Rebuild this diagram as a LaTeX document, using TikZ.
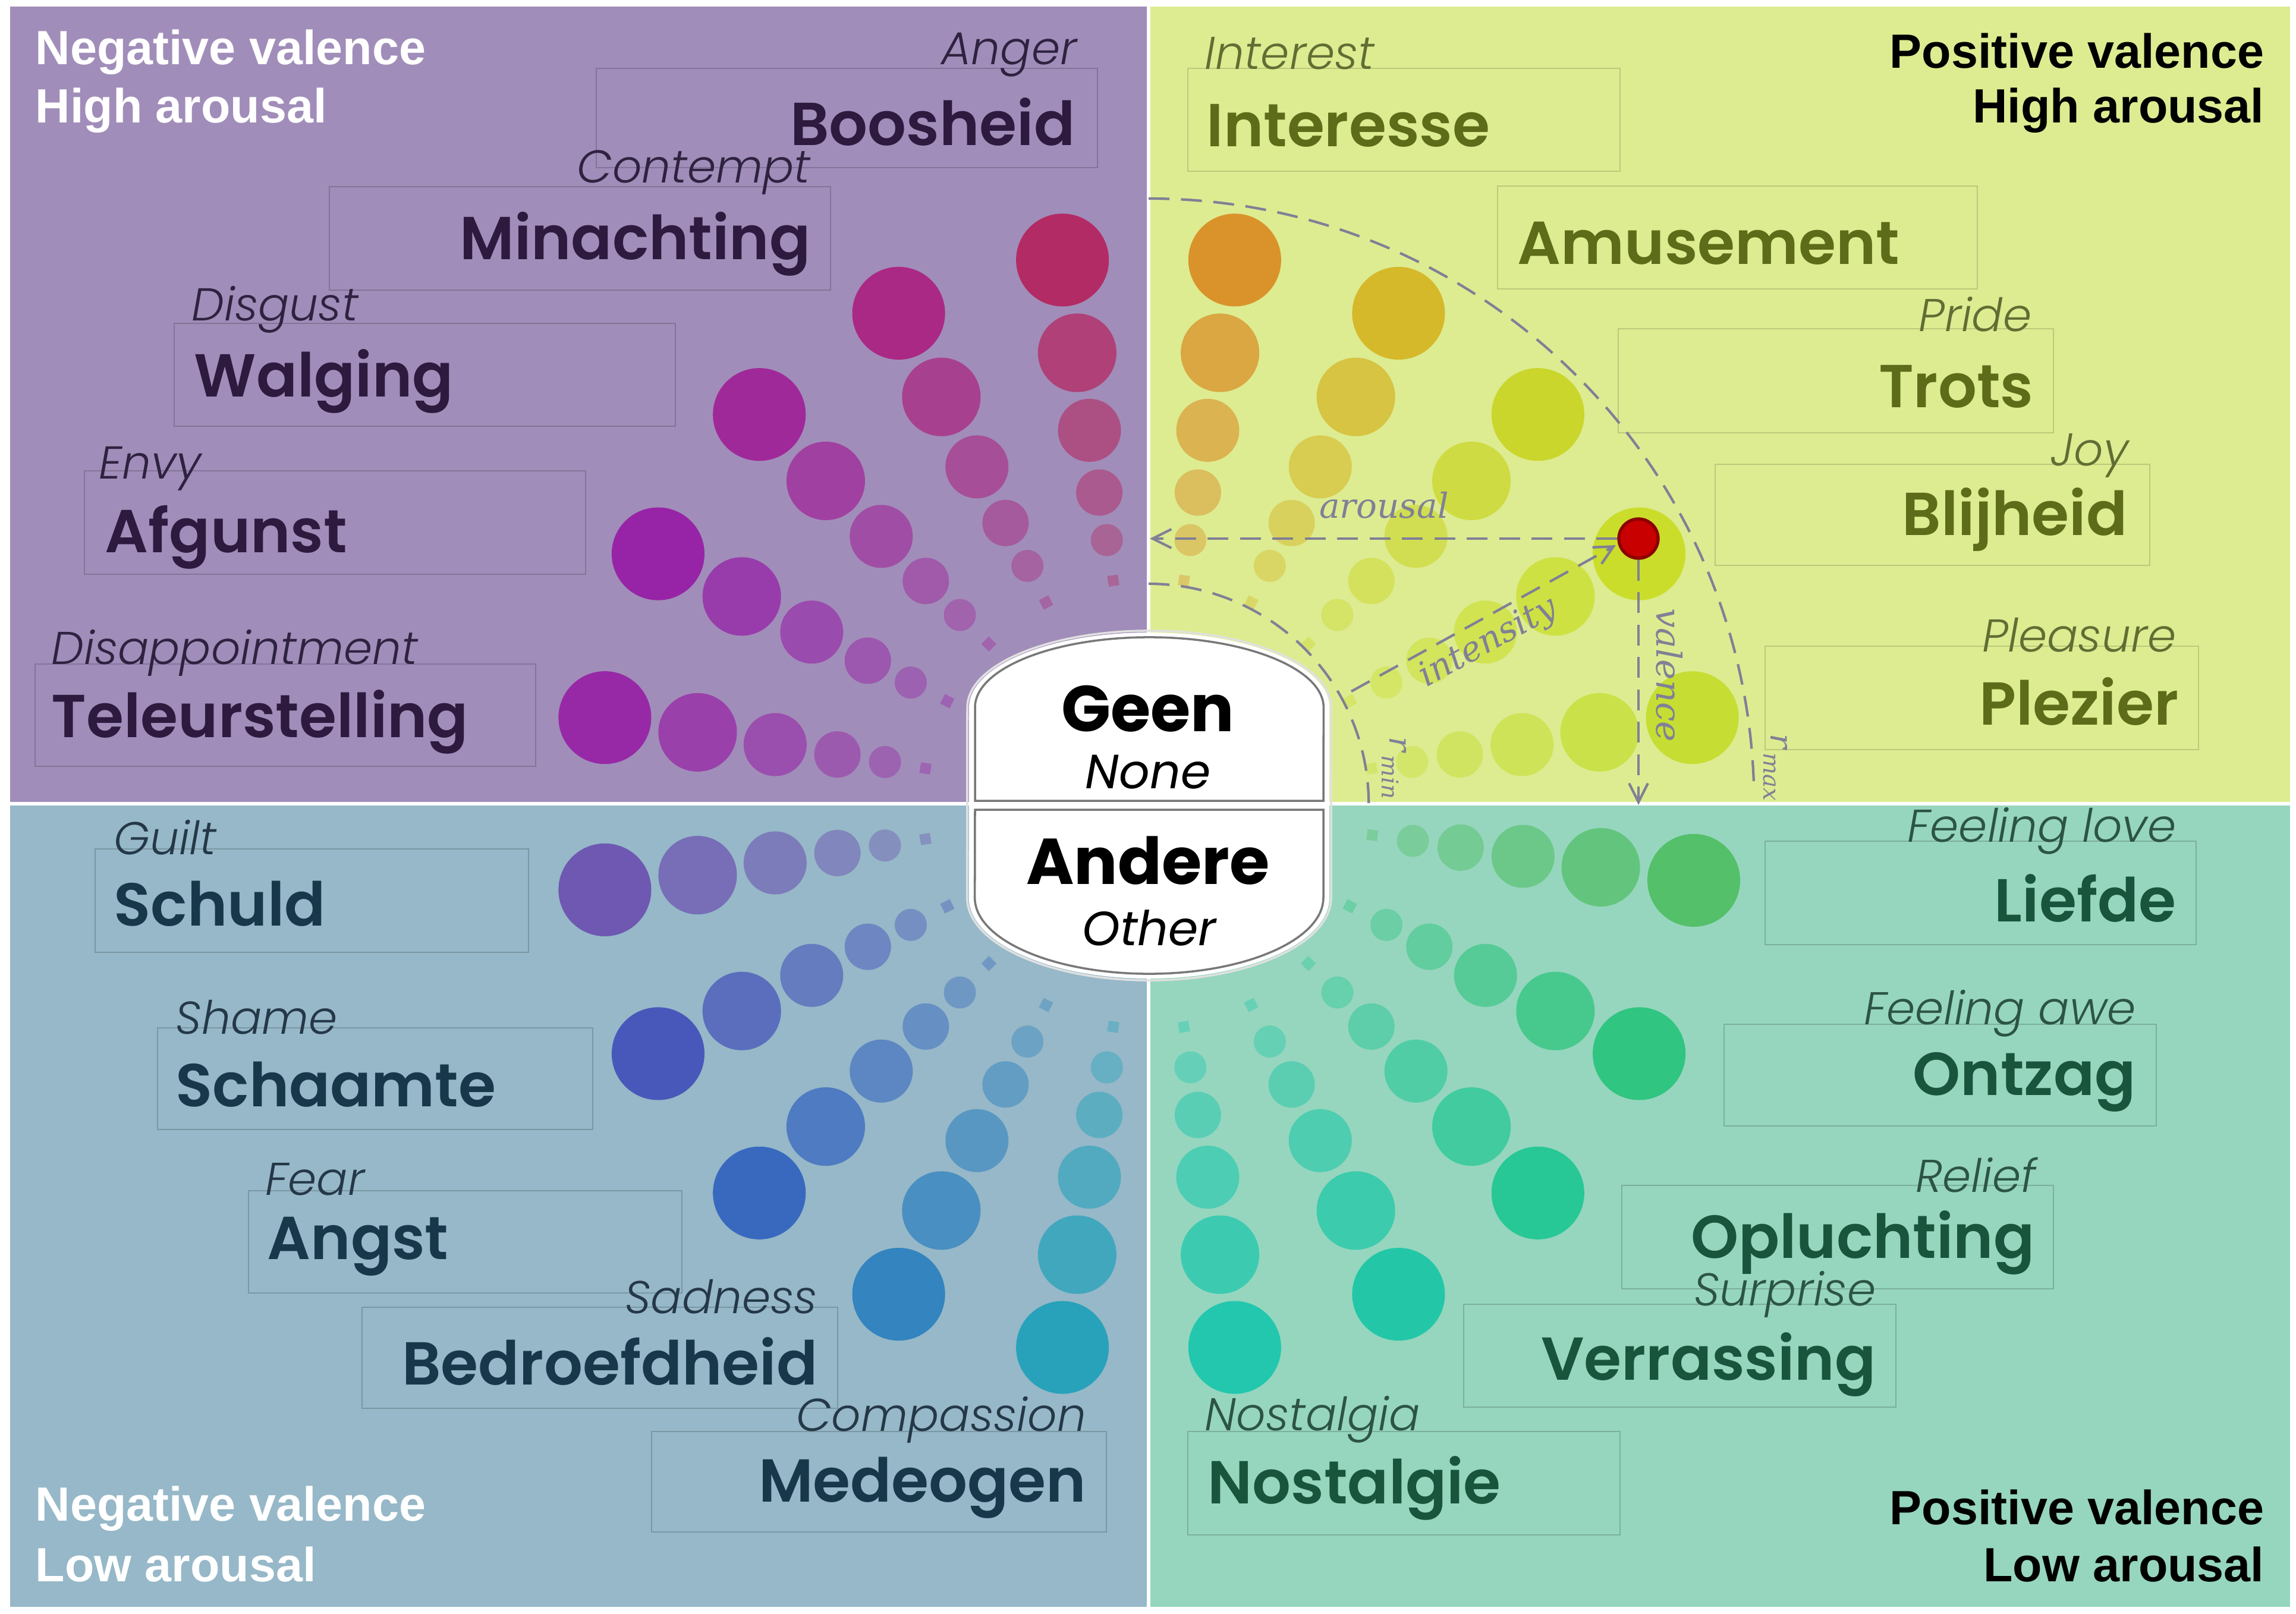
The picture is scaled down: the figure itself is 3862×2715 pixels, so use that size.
\documentclass[tikz,border=0pt]{standalone}
\usepackage{fontspec}
\usetikzlibrary{arrows.meta}
\newfontfamily\emofont{Poppins}[BoldFont={Poppins SemiBold}, ItalicFont={Poppins Light Italic}]
\newfontfamily\ctrfont{Poppins}
\newfontfamily\titlefont{Liberation Sans}
\newfontfamily\annfont{DejaVu Serif}
\newcommand\myfs[1]{\fontsize{#1}{#1}\selectfont}
% backgrounds
\definecolor{tlbg}{RGB}{161,141,185}
\definecolor{trbg}{RGB}{221,236,145}
\definecolor{blbg}{RGB}{150,184,200}
\definecolor{brbg}{RGB}{150,214,190}
% text colours
\definecolor{tlw}{RGB}{46,26,62}
\definecolor{tle}{RGB}{46,34,64}
\definecolor{trw}{RGB}{92,108,24}
\definecolor{tre}{RGB}{96,110,52}
\definecolor{blw}{RGB}{25,55,75}
\definecolor{ble}{RGB}{36,56,72}
\definecolor{brw}{RGB}{25,85,60}
\definecolor{bre}{RGB}{44,84,68}
\definecolor{annotgray}{RGB}{128,128,150}
\definecolor{shapegray}{RGB}{120,120,120}
\definecolor{reddot}{RGB}{200,0,0}
\definecolor{reddotb}{RGB}{140,0,0}
% spoke colours
\definecolor{cAng}{RGB}{182,30,90}
\definecolor{cCon}{RGB}{172,28,125}
\definecolor{cDis}{RGB}{160,28,150}
\definecolor{cEnv}{RGB}{150,22,165}
\definecolor{cDisa}{RGB}{150,28,165}
\definecolor{cInt}{RGB}{218,135,30}
\definecolor{cAmu}{RGB}{212,178,30}
\definecolor{cPri}{RGB}{200,212,30}
\definecolor{cJoy}{RGB}{200,220,30}
\definecolor{cPle}{RGB}{195,220,40}
\definecolor{cGui}{RGB}{105,75,175}
\definecolor{cSha}{RGB}{62,75,185}
\definecolor{cFea}{RGB}{45,95,190}
\definecolor{cSad}{RGB}{38,125,190}
\definecolor{cCom}{RGB}{25,160,185}
\definecolor{cLov}{RGB}{75,190,95}
\definecolor{cAwe}{RGB}{35,195,120}
\definecolor{cRel}{RGB}{25,198,145}
\definecolor{cSur}{RGB}{20,198,165}
\definecolor{cNos}{RGB}{18,198,172}
\tikzset{
  word/.style={font=\emofont\bfseries\myfs{29pt}, inner sep=0pt},
  eng/.style={font=\emofont\itshape\myfs{22pt}, inner sep=0pt},
  ttl/.style={font=\titlefont\bfseries\myfs{23pt}, inner sep=0pt},
  lbox/.style={line width=0.8pt},
  annot/.style={draw=annotgray, line width=1.2pt, dash pattern=on 10pt off 5.5pt},
  annottip/.style={-{Straight Barb[length=9pt,width=9pt,line width=1.2pt]}},
  annotlab/.style={text=annotgray, font=\annfont\itshape\myfs{16.5pt}, inner sep=0pt},
}
\begin{document}
\begin{tikzpicture}[x=0.01cm,y=-0.01cm]
\useasboundingbox (0,0) rectangle (3862,2715);
\fill[white] (0,0) rectangle (3862,2715);
% quadrants
\fill[tlbg] (17,11) rectangle (1929,1349);
\fill[trbg] (1935,11) rectangle (3852,1349);
\fill[blbg] (17,1355) rectangle (1929,2703);
\fill[brbg] (1935,1355) rectangle (3852,2703);

% label boxes
\draw[lbox, draw=tlbg!82!black] (1003,115) rectangle (1846,282);
\draw[lbox, draw=tlbg!82!black] (554,314) rectangle (1397,488);
\draw[lbox, draw=tlbg!82!black] (293,544) rectangle (1136,717);
\draw[lbox, draw=tlbg!82!black] (142,792) rectangle (985,966);
\draw[lbox, draw=tlbg!82!black] (59,1117) rectangle (901,1289);
\draw[lbox, draw=trbg!85!black] (1998,115) rectangle (2725,288);
\draw[lbox, draw=trbg!85!black] (2519,313) rectangle (3326,486);
\draw[lbox, draw=trbg!85!black] (2722,553) rectangle (3454,728);
\draw[lbox, draw=trbg!85!black] (2885,781) rectangle (3616,951);
\draw[lbox, draw=trbg!85!black] (2969,1087) rectangle (3698,1261);
\draw[lbox, draw=blbg!82!black] (160,1428) rectangle (889,1602);
\draw[lbox, draw=blbg!82!black] (265,1729) rectangle (997,1900);
\draw[lbox, draw=blbg!82!black] (418,2003) rectangle (1147,2175);
\draw[lbox, draw=blbg!82!black] (609,2199) rectangle (1409,2369);
\draw[lbox, draw=blbg!82!black] (1096,2408) rectangle (1861,2577);
\draw[lbox, draw=brbg!82!black] (2969,1415) rectangle (3694,1589);
\draw[lbox, draw=brbg!82!black] (2900,1723) rectangle (3627,1894);
\draw[lbox, draw=brbg!82!black] (2728,1994) rectangle (3454,2168);
\draw[lbox, draw=brbg!82!black] (2462,2194) rectangle (3189,2367);
\draw[lbox, draw=brbg!82!black] (1998,2408) rectangle (2725,2582);

% spokes of circles
\foreach \ang/\col in {81/cInt,63/cAmu,45/cPri,27/cJoy,9/cPle,
  99/cAng,117/cCon,135/cDis,153/cEnv,171/cDisa,
  189/cGui,207/cSha,225/cFea,243/cSad,261/cCom,
  279/cNos,297/cSur,315/cRel,333/cAwe,352/cLov}{
  \foreach \d/\r/\op in {926/0.78/0.88,768/0.66/0.68,636/0.53/0.55,530/0.39/0.45,449/0.27/0.37}{
    \fill[\col, opacity=\op] ({1932+\d*cos(\ang)},{1352-\d*sin(\ang)}) circle[radius=\r cm];
  }
  \fill[\col, opacity=0.35, shift={({1932+380*cos(\ang)},{1352-380*sin(\ang)})}, rotate=\ang] (-9,-9) rectangle (9,9);
}

% titles
\node[ttl, text=white, anchor=west] (t1a) at (59,88) {Negative valence};
\node[ttl, text=white, anchor=west] (t1b) at (59,186) {High arousal};
\node[ttl, text=black, anchor=east] (t2a) at (3809,86) {Positive valence};
\node[ttl, text=black, anchor=east] (t2b) at (3809,186) {High arousal};
\node[ttl, text=white, anchor=west] (t3a) at (59,2538) {Negative valence};
\node[ttl, text=white, anchor=west] (t3b) at (59,2632) {Low arousal};
\node[ttl, text=black, anchor=east] (t4a) at (3809,2536) {Positive valence};
\node[ttl, text=black, anchor=east] (t4b) at (3809,2632) {Low arousal};

% TL labels
\node[eng, text=tle, anchor=east] (e1) at (1812,92) {Anger};
\node[word, text=tlw, anchor=east] (w1) at (1809,205) {Boosheid};
\node[eng, text=tle, anchor=east] (e2) at (1364,290) {Contempt};
\node[word, text=tlw, anchor=east] (w2) at (1364,410) {Minachting};
\node[eng, text=tle, anchor=west] (e3) at (322,521) {Disgust};
\node[word, text=tlw, anchor=west] (w3) at (326,641) {Walging};
\node[eng, text=tle, anchor=west] (e4) at (166,788) {Envy};
\node[word, text=tlw, anchor=west] (w4) at (176,904) {Afgunst};
\node[eng, text=tle, anchor=west] (e5) at (86,1098) {Disappointment};
\node[word, text=tlw, anchor=west] (w5) at (86,1214) {Teleurstelling};
% TR labels
\node[eng, text=tre, anchor=west] (e6) at (2026,90) {Interest};
\node[word, text=trw, anchor=west] (w6) at (2029,211) {Interesse};
\node[word, text=trw, anchor=west] (w7) at (2552,409) {Amusement};
\node[eng, text=tre, anchor=east] (e8) at (3418,529) {Pride};
\node[word, text=trw, anchor=east] (w8) at (3421,650) {Trots};
\node[eng, text=tre, anchor=east] (e9) at (3581,766) {Joy};
\node[word, text=trw, anchor=east] (w9) at (3579,874) {Blijheid};
\node[eng, text=tre, anchor=east] (e10) at (3661,1068) {Pleasure};
\node[word, text=trw, anchor=east] (w10) at (3665,1180) {Plezier};
% BL labels
\node[eng, text=ble, anchor=west] (e11) at (191,1409) {Guilt};
\node[word, text=blw, anchor=west] (w11) at (191,1520) {Schuld};
\node[eng, text=ble, anchor=west] (e12) at (295,1711) {Shame};
\node[word, text=blw, anchor=west] (w12) at (295,1824) {Schaamte};
\node[eng, text=ble, anchor=west] (e13) at (446,1984) {Fear};
\node[word, text=blw, anchor=west] (w13) at (449,2097) {Angst};
\node[eng, text=ble, anchor=east] (e14) at (1376,2181) {Sadness};
\node[word, text=blw, anchor=east] (w14) at (1376,2290) {Bedroefdheid};
\node[eng, text=ble, anchor=east] (e15) at (1828,2388) {Compassion};
\node[word, text=blw, anchor=east] (w15) at (1828,2503) {Medeogen};
% BR labels
\node[eng, text=bre, anchor=east] (e16) at (3661,1398) {Feeling love};
\node[word, text=brw, anchor=east] (w16) at (3661,1511) {Liefde};
\node[eng, text=bre, anchor=east] (e17) at (3593,1705) {Feeling awe};
\node[word, text=brw, anchor=east] (w17) at (3593,1820) {Ontzag};
\node[eng, text=bre, anchor=east] (e18) at (3425,1977) {Relief};
\node[word, text=brw, anchor=east] (w18) at (3423,2090) {Opluchting};
\node[eng, text=bre, anchor=east] (e19) at (3156,2177) {Surprise};
\node[word, text=brw, anchor=east] (w19) at (3156,2295) {Verrassing};
\node[eng, text=bre, anchor=west] (e20) at (2026,2388) {Nostalgia};
\node[word, text=brw, anchor=west] (w20) at (2031,2503) {Nostalgie};

% annotation: arcs
\draw[annot] (1932,334) arc[start angle=90,end angle=1.5,radius=10.18cm];
\draw[annot] (1932,982) arc[start angle=90,end angle=-1,radius=3.70cm];
% red dot and arrows
\node[circle, fill=reddot, draw=reddotb, line width=1.5pt, minimum size=0.66cm, inner sep=0pt] (dot) at (2756,906) {};
\coordinate (arousalEnd) at (1934,906);
\coordinate (valenceEnd) at (2756,1354);
\coordinate (istart) at (2273,1163);
\coordinate (iend) at (2718,917);
\draw[annot, annottip] (dot.west) -- (arousalEnd);
\draw[annot, annottip] (dot.south) -- (valenceEnd);
\draw[annot, annottip] (istart) -- (iend);
\node[annotlab] (lar) at (2328,850) {arousal};
\node[annotlab, rotate=29] (lint) at (2504,1082) {intensity};
\node[annotlab, rotate=-90] (lval) at (2808,1136) {valence};
\node[annotlab, rotate=-90, font=\annfont\itshape\myfs{15pt}] (lrmin) at (2345,1292) {r\raisebox{-0.45ex}{\myfs{11pt}\,min}};
\node[annotlab, rotate=-90, font=\annfont\itshape\myfs{15pt}] (lrmax) at (2986,1291) {r\raisebox{-0.45ex}{\myfs{11pt}\,max}};

% centre shape
\fill[white] (1630,1190) arc[start angle=180,end angle=0,x radius=3.03cm,y radius=1.26cm]
  -- (2236,1510) arc[start angle=0,end angle=-180,x radius=3.03cm,y radius=1.36cm] -- cycle;
\draw[black!12, line width=1pt] (1627,1190) arc[start angle=180,end angle=0,x radius=3.06cm,y radius=1.29cm]
  -- (2239,1510) arc[start angle=0,end angle=-180,x radius=3.06cm,y radius=1.39cm] -- cycle;
\draw[shapegray, line width=1pt] (1640,1190) arc[start angle=180,end angle=0,x radius=2.93cm,y radius=1.18cm]
  -- (2226,1347) -- (1640,1347) -- cycle;
\draw[shapegray, line width=1pt] (1640,1362) -- (2226,1362) -- (2226,1510)
  arc[start angle=0,end angle=-180,x radius=2.93cm,y radius=1.28cm] -- cycle;
\node[font=\ctrfont\bfseries\myfs{31pt}, inner sep=0pt] (geen) at (1931,1192) {Geen};
\node[font=\ctrfont\itshape\myfs{23pt}, inner sep=0pt] (none) at (1931,1299) {None};
\node[font=\ctrfont\bfseries\myfs{31pt}, inner sep=0pt] (andere) at (1931,1448) {Andere};
\node[font=\ctrfont\itshape\myfs{23pt}, inner sep=0pt] (other) at (1933,1561) {Other};
\end{tikzpicture}
\end{document}
